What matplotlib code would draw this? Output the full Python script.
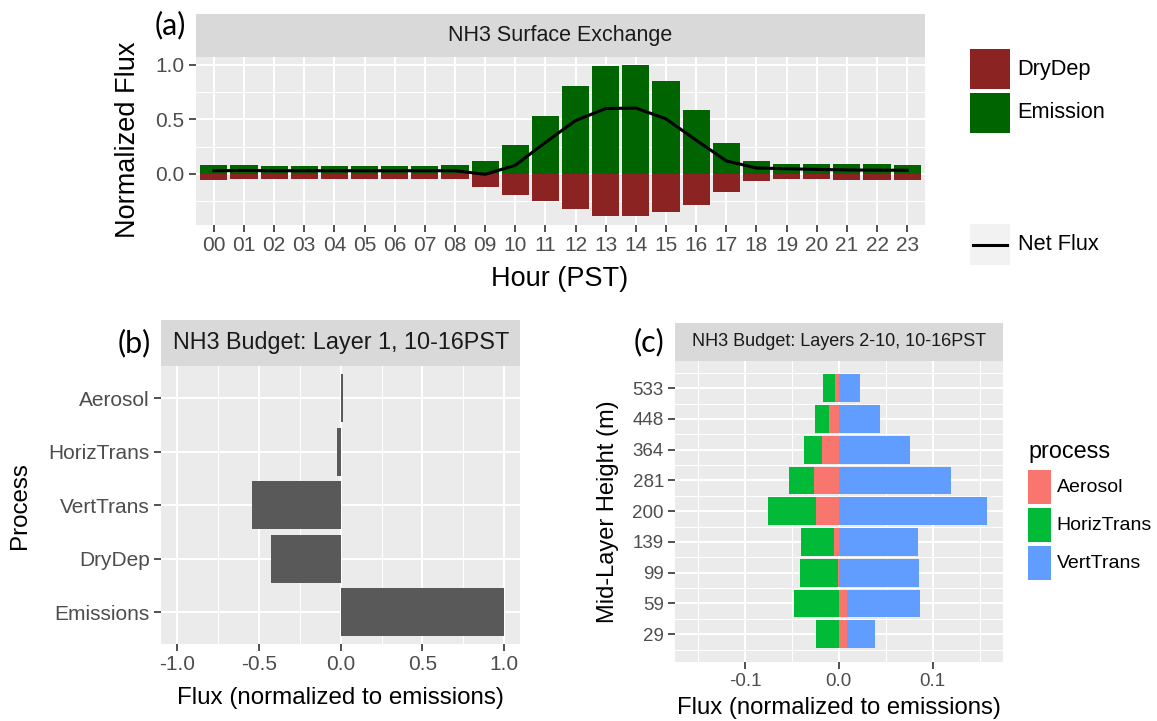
import numpy as np
import matplotlib
matplotlib.use("Agg")
import matplotlib.pyplot as plt
from matplotlib.patches import Rectangle
from matplotlib.ticker import MultipleLocator, FixedLocator

plt.rcParams["font.family"] = ["Liberation Sans", "DejaVu Sans"]

# ── data ──────────────────────────────────────────────────────────────────────
hours = [f"{h:02d}" for h in range(24)]
emission = [0.079, 0.080, 0.073, 0.073, 0.073, 0.073, 0.073, 0.073, 0.085, 0.120,
            0.265, 0.530, 0.810, 0.988, 1.000, 0.854, 0.585, 0.286, 0.115, 0.090,
            0.090, 0.090, 0.090, 0.085]
drydep = [-0.052, -0.043, -0.043, -0.043, -0.043, -0.043, -0.043, -0.043, -0.050, -0.122,
          -0.190, -0.245, -0.323, -0.387, -0.390, -0.350, -0.284, -0.168, -0.067, -0.043,
          -0.050, -0.055, -0.055, -0.055]
net_flux = [0.030, 0.032, 0.030, 0.030, 0.030, 0.030, 0.030, 0.030, 0.030, -0.003,
            0.080, 0.290, 0.490, 0.600, 0.605, 0.505, 0.310, 0.120, 0.055, 0.048,
            0.042, 0.037, 0.035, 0.034]

l1_process = ["Emissions", "DryDep", "VertTrans", "HorizTrans", "Aerosol"]
l1_flux = [1.0, -0.426, -0.546, -0.020, 0.012]

heights = ["29", "59", "99", "139", "200", "281", "364", "448", "533"]
aerosol = [0.0092, 0.0082, -0.0004, -0.0053, -0.0244, -0.0269, -0.0177, -0.0106, -0.0046]
horiz = [-0.0244, -0.0481, -0.0411, -0.0346, -0.0510, -0.0258, -0.0195, -0.0152, -0.0124]
vert = [0.0298, 0.0778, 0.0853, 0.0843, 0.1580, 0.1196, 0.0761, 0.0443, 0.0230]

# ── style ─────────────────────────────────────────────────────────────────────
W, H = 1157, 721
PANEL_BG = "#EBEBEB"
STRIP_BG = "#D9D9D9"
TICK_TXT = "#4D4D4D"
C_EMIS, C_DEP = "#006400", "#8B2323"
C_AER, C_HOR, C_VER = "#F8766D", "#00BA38", "#619CFF"

fig = plt.figure(figsize=(W / 100, H / 100), dpi=100)


def px_axes(x0, y0, x1, y1):
    return fig.add_axes([x0 / W, 1 - y1 / H, (x1 - x0) / W, (y1 - y0) / H])


def fx(x):
    return x / W


def fy(y):
    return 1 - y / H


def gg_style(ax, size):
    ax.set_facecolor(PANEL_BG)
    for s in ax.spines.values():
        s.set_visible(False)
    ax.tick_params(which="major", length=5, width=1.2, color="#333333",
                   labelcolor=TICK_TXT, labelsize=size, pad=3)
    ax.tick_params(which="minor", length=0)
    ax.grid(which="major", color="white", lw=1.5)
    ax.grid(which="minor", color="white", lw=0.75)
    ax.set_axisbelow(True)


def strip(x0, y0, x1, y1, text, size):
    sa = px_axes(x0, y0, x1, y1)
    sa.set_facecolor(STRIP_BG)
    sa.set_xticks([])
    sa.set_yticks([])
    for s in sa.spines.values():
        s.set_visible(False)
    sa.text(0.5, 0.5, text, ha="center", va="center", fontsize=size, color="#1A1A1A")


# ═════════════════════════════════════════════════════════════════════════════
# (a) surface exchange by hour
# ═════════════════════════════════════════════════════════════════════════════
ax = px_axes(195.7, 57, 925.3, 225)
x = np.arange(len(hours))
ax.bar(x, emission, 0.9, color=C_EMIS, zorder=2)
ax.bar(x, drydep, 0.9, color=C_DEP, zorder=2)
ax.plot(x, net_flux, color="black", lw=2.2, zorder=3)
ax.set_xlim(-0.6, 23.6)
ax.set_ylim(-0.468, 1.073)
ax.set_xticks(x)
ax.set_xticklabels(hours)
ax.set_yticks([0.0, 0.5, 1.0])
ax.yaxis.set_minor_locator(FixedLocator([-0.25, 0.25, 0.75]))
gg_style(ax, 15)
ax.grid(which="minor", axis="x", visible=False)
strip(195.7, 14, 925.3, 57, "NH3 Surface Exchange", 15.5)
fig.text(fx(560), fy(279), "Hour (PST)", ha="center", va="center", fontsize=19.5)
fig.text(fx(128), fy(140), "Normalized Flux", ha="center", va="center",
         fontsize=19.5, rotation=90)

# ═════════════════════════════════════════════════════════════════════════════
# (b) layer 1 budget
# ═════════════════════════════════════════════════════════════════════════════
ax = px_axes(161, 366, 520.4, 644.3)
yb = np.arange(len(l1_process))
ax.barh(yb, l1_flux, 0.9, color="#595959", zorder=2)
ax.set_xlim(-1.1, 1.1)
ax.set_ylim(-0.6, len(l1_process) - 0.4)
ax.set_yticks(yb)
ax.set_yticklabels(l1_process)
ax.set_xticks([-1.0, -0.5, 0.0, 0.5, 1.0])
ax.set_xticklabels(["-1.0", "-0.5", "0.0", "0.5", "1.0"])
ax.xaxis.set_minor_locator(FixedLocator([-0.75, -0.25, 0.25, 0.75]))
gg_style(ax, 15)
ax.grid(which="minor", axis="y", visible=False)
strip(161, 320, 520.4, 366, "NH3 Budget: Layer 1, 10-16PST", 16.8)
fig.text(fx(340.5), fy(698), "Flux (normalized to emissions)", ha="center",
         va="center", fontsize=17.4)
fig.text(fx(20), fy(506), "Process", ha="center", va="center", fontsize=17.4,
         rotation=90)

# ═════════════════════════════════════════════════════════════════════════════
# (c) layers 2-10 budget, stacked by process
# ═════════════════════════════════════════════════════════════════════════════
ax = px_axes(675, 360.7, 1002.7, 661.7)
yc = np.arange(1, len(heights) + 1)
aer = np.array(aerosol)
neg_base = np.minimum(aer, 0)
pos_base = np.maximum(aer, 0)
ax.barh(yc, aer, 0.9, color=C_AER, zorder=2)
ax.barh(yc, horiz, 0.9, left=neg_base, color=C_HOR, zorder=2)
ax.barh(yc, vert, 0.9, left=pos_base, color=C_VER, zorder=2)
ax.set_xlim(-0.1745, 0.1745)
ax.set_ylim(0.105, 9.895)
ax.set_yticks(yc)
ax.set_yticklabels(heights)
ax.yaxis.set_minor_locator(MultipleLocator(1.0, offset=0.5))
ax.set_xticks([-0.1, 0.0, 0.1])
ax.set_xticklabels(["-0.1", "0.0", "0.1"])
ax.xaxis.set_minor_locator(FixedLocator([-0.15, -0.05, 0.05, 0.15]))
gg_style(ax, 13.5)
strip(675, 323.3, 1002.7, 360.7, "NH3 Budget: Layers 2-10, 10-16PST", 13)
fig.text(fx(839), fy(708), "Flux (normalized to emissions)", ha="center",
         va="center", fontsize=17.2)
fig.text(fx(608), fy(511.7), "Mid-Layer Height (m)", ha="center", va="center",
         fontsize=17, rotation=90)

# ── legends (overlay axes in pixel units, y pointing down) ────────────────────
lax = px_axes(0, 0, W, H)
lax.set_xlim(0, W)
lax.set_ylim(H, 0)
lax.axis("off")

# (a) fill legend + net flux line legend
for y0, col, lab in [(49, C_DEP, "DryDep"), (93, C_EMIS, "Emission")]:
    lax.add_patch(Rectangle((970, y0), 40, 40, color=col, lw=0))
    lax.text(1017.7, y0 + 20, lab, ha="left", va="center", fontsize=15.7)
lax.add_patch(Rectangle((970, 224), 40, 41, color="#F2F2F2", lw=0))
lax.plot([972.7, 1007.3], [244.5, 244.5], color="black", lw=2.2)
lax.text(1017.7, 244.5, "Net Flux", ha="left", va="center", fontsize=15.7)

# (c) process legend
lax.text(1028, 451.7, "process", ha="left", va="center", fontsize=16.8)
for y0, col, lab in [(470, C_AER, "Aerosol"), (508, C_HOR, "HorizTrans"),
                     (546, C_VER, "VertTrans")]:
    lax.add_patch(Rectangle((1028.3, y0), 22.4, 34, color=col, lw=0))
    lax.text(1056.7, y0 + 17, lab, ha="left", va="center", fontsize=14)

# ── panel tags ────────────────────────────────────────────────────────────────
for tx, ty, tag in [(170, 25, "(a)"), (134, 343, "(b)"), (649, 342, "(c)")]:
    fig.text(fx(tx), fy(ty), tag, ha="center", va="center", fontsize=22,
             family=["Lato", "DejaVu Sans"])

fig.savefig("out.png", dpi=100)
